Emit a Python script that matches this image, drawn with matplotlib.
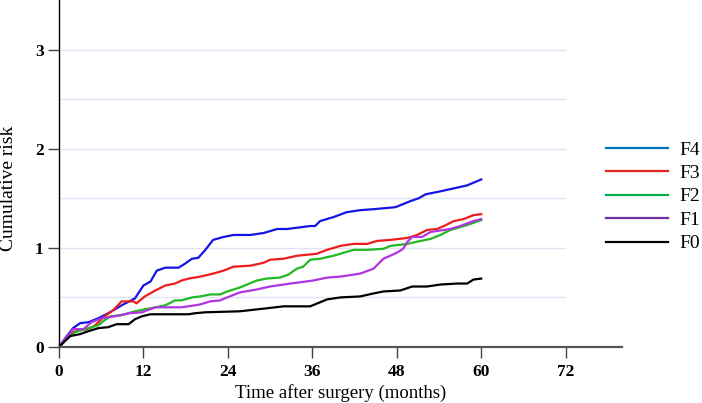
import matplotlib
matplotlib.use("Agg")
import matplotlib.pyplot as plt
from matplotlib.lines import Line2D

plt.rcParams['font.family'] = ['Liberation Serif', 'DejaVu Serif']

# months after surgery / cumulative risk
f4_t = [0, 1, 2.0, 3.0, 4.2, 5.6, 7.0, 8.9, 10.8, 12.0, 13.0, 13.9, 15.1, 17.0, 17.9, 18.9, 19.8, 20.8,
        21.9, 23.4, 24.8, 27.2, 29.1, 31.0, 32.4, 35.7, 36.4, 37.1, 39.0, 40.9, 42.8, 44.7, 47.8,
        49.9, 51.1, 52.1, 54.2, 56.1, 58.0, 60.0]
f4_y = [0, 0.10, 0.19, 0.24, 0.25, 0.29, 0.34, 0.42, 0.49, 0.62, 0.66, 0.77, 0.80, 0.80, 0.84, 0.89, 0.90, 0.98,
        1.08, 1.11, 1.13, 1.13, 1.15, 1.19, 1.19, 1.22, 1.22, 1.27, 1.31, 1.36, 1.38, 1.39, 1.41,
        1.47, 1.50, 1.54, 1.57, 1.60, 1.63, 1.69]

f3_t = [0, 1, 2, 3, 4, 5, 6.5, 7.7, 8.9, 10.6, 11.0, 12.2, 13.7, 15.1, 16.5, 17.4, 18.4, 20.1,
        21.9, 23.4, 24.8, 27.2, 29.1, 30.0, 31.9, 33.8, 36.6, 38.1, 40.0, 41.9, 43.8, 45.2, 47.1,
        49.5, 50.9, 52.3, 53.7, 54.7, 56.1, 57.5, 58.9, 60.0]
f3_y = [0, 0.08, 0.15, 0.17, 0.18, 0.21, 0.31, 0.37, 0.46, 0.46, 0.44, 0.51, 0.57, 0.62, 0.64, 0.67, 0.69, 0.71,
        0.74, 0.77, 0.81, 0.82, 0.85, 0.88, 0.89, 0.92, 0.94, 0.98, 1.02, 1.04, 1.04, 1.07, 1.08,
        1.10, 1.13, 1.18, 1.19, 1.22, 1.27, 1.29, 1.33, 1.34]

f2_t = [0, 1, 2.3, 4.2, 5.6, 6.5, 7.3, 8.9, 10.8, 12.2, 13.7, 15.1, 16.5, 17.4, 18.9, 20.1, 21.5,
        22.9, 23.9, 25.7, 28.1, 29.5, 31.4, 32.6, 33.8, 34.7, 35.7, 37.1, 39.0, 40.9, 41.9, 43.8,
        46.1, 47.1, 49.5, 51.4, 52.8, 54.2, 55.6, 58.0, 60.0]
f2_y = [0, 0.08, 0.15, 0.19, 0.22, 0.27, 0.31, 0.32, 0.36, 0.38, 0.40, 0.42, 0.47, 0.47, 0.50, 0.51, 0.53,
        0.53, 0.56, 0.60, 0.67, 0.69, 0.70, 0.73, 0.79, 0.81, 0.88, 0.89, 0.92, 0.96, 0.98, 0.98,
        0.99, 1.02, 1.04, 1.07, 1.09, 1.13, 1.18, 1.23, 1.28]

f1_t = [0, 1, 2.0, 3.5, 4.6, 6.1, 8.0, 9.9, 11.8, 13.7, 15.6, 17.4, 19.3, 20.1, 21.5, 22.9, 23.9,
        25.7, 28.1, 30.0, 32.9, 36.1, 38.1, 40.0, 42.8, 44.7, 46.1, 48.0, 48.9, 49.5, 50.2, 51.6,
        52.8, 55.6, 57.0, 58.9, 60.0]
f1_y = [0, 0.09, 0.18, 0.18, 0.25, 0.29, 0.31, 0.34, 0.35, 0.40, 0.40, 0.40, 0.42, 0.43, 0.46, 0.47, 0.50,
        0.55, 0.58, 0.61, 0.64, 0.67, 0.70, 0.71, 0.74, 0.79, 0.89, 0.95, 0.99, 1.06, 1.11, 1.11,
        1.16, 1.19, 1.22, 1.27, 1.29]

f0_t = [0, 1.6, 3.0, 4.2, 5.6, 7.0, 8.2, 9.9, 10.8, 11.8, 13.0, 16.0, 18.4, 19.3, 20.8, 25.7, 29.5,
        31.9, 35.7, 38.1, 40.0, 42.8, 44.7, 46.1, 48.5, 50.2, 52.3, 54.2, 56.6, 58.0, 58.9, 60.0]
f0_y = [0, 0.11, 0.13, 0.16, 0.19, 0.20, 0.23, 0.23, 0.28, 0.31, 0.33, 0.33, 0.33, 0.34, 0.35, 0.36, 0.39,
        0.41, 0.41, 0.48, 0.50, 0.51, 0.54, 0.56, 0.57, 0.61, 0.61, 0.63, 0.64, 0.64, 0.68, 0.69]

labels = ['F4', 'F3', 'F2', 'F1', 'F0']
line_colors = ['#1414e6', '#ee1c1c', '#22b822', '#b035e0', '#000000']
legend_colors = ['#0070c0', '#e52222', '#00b050', '#7030a0', '#000000']
series = [(f4_t, f4_y), (f3_t, f3_y), (f2_t, f2_y), (f1_t, f1_y), (f0_t, f0_y)]

x_ticks = [0, 12, 24, 36, 48, 60, 72]
y_ticks = [0, 1, 2, 3]
grid_levels = [0.5, 1, 1.5, 2, 2.5, 3]

fig = plt.figure(figsize=(7.02, 4.03), dpi=100)
ax = fig.add_axes([0.084, 0.139, 0.802, 0.861])

ax.hlines(grid_levels, 0, 72, colors='#dfe4f0', linewidth=1, zorder=0)

for (t, y), c in zip(series, line_colors):
    ax.plot(t, y, color=c, linewidth=1.6)

ax.set_xlim(0, 80)
ax.set_ylim(0, 3.5)
ax.set_xticks(x_ticks)
ax.set_yticks(y_ticks)
for lab in ax.get_xticklabels() + ax.get_yticklabels():
    lab.set_fontweight('bold')
    lab.set_fontsize(12.5)
ax.tick_params(axis='x', direction='out', length=8, width=1, color='#444444', pad=4)
ax.tick_params(axis='y', direction='out', length=8, width=1, color='#444444', pad=3)

ax.spines['top'].set_visible(False)
ax.spines['right'].set_visible(False)
ax.spines['bottom'].set_color('#555555')
ax.spines['bottom'].set_linewidth(1.6)
ax.spines['left'].set_linewidth(1)

ax.set_xlabel('Time after surgery (months)', fontsize=13.5, labelpad=3)
ax.set_ylabel('Cumulative risk', fontsize=14)
ax.yaxis.set_label_coords(-0.074, 0.457)

handles = [Line2D([0], [0], color=c, linewidth=1.6) for c in legend_colors]
fig.legend(handles, labels, loc='center left', bbox_to_anchor=(0.838, 0.512), frameon=False,
           fontsize=14, handlelength=3.2, labelspacing=0.3, handletextpad=0.6)

fig.savefig('out.png', dpi=100)
